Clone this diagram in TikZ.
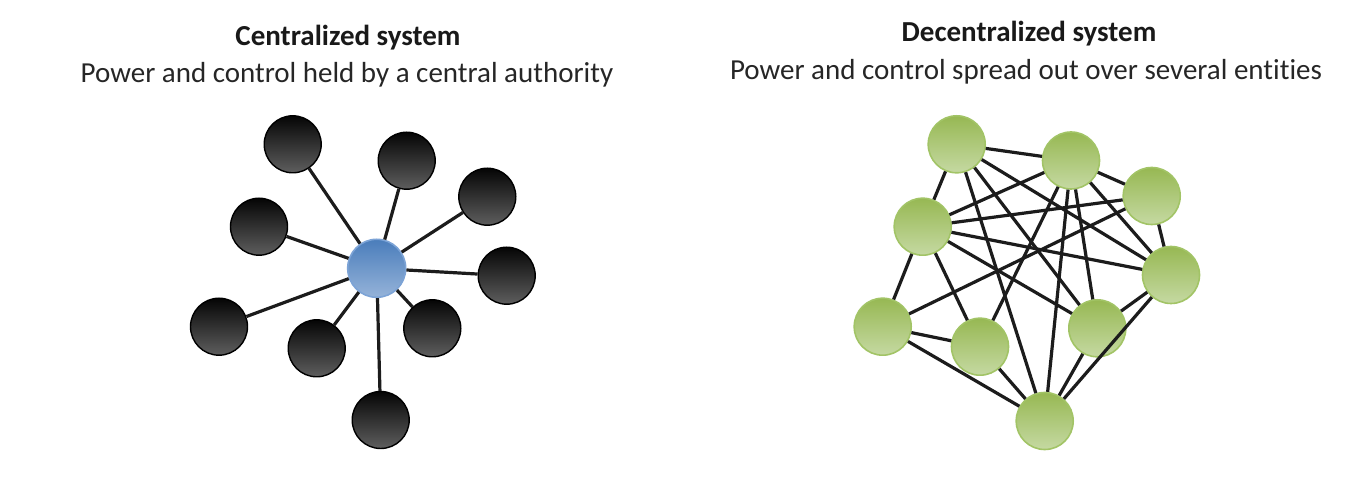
\documentclass[tikz,border=0pt]{standalone}
\usepackage{fontspec}
\setmainfont{Carlito}[Ligatures=NoCommon]
\definecolor{darktop}{HTML}{050505}
\definecolor{darkbot}{HTML}{5E5E5E}
\definecolor{bluetop}{HTML}{4A7DBB}
\definecolor{bluebot}{HTML}{95B3D9}
\definecolor{blueedge}{HTML}{7CA3D6}
\definecolor{greentop}{HTML}{97B853}
\definecolor{greenbot}{HTML}{C5D9A2}
\definecolor{greenedge}{HTML}{A2C466}
\definecolor{linkcol}{HTML}{1C1C1C}
\begin{document}
\begin{tikzpicture}[x=0.5pt,y=-0.5pt,
  darknode/.style={circle, minimum size=28.5pt, inner sep=0pt, draw=black, line width=0.7pt, top color=darktop, bottom color=darkbot},
  hubnode/.style={circle, minimum size=29pt, inner sep=0pt, draw=blueedge, line width=0.8pt, top color=bluetop, bottom color=bluebot},
  peernode/.style={circle, minimum size=28.5pt, inner sep=0pt, draw=greenedge, line width=0.8pt, top color=greentop, bottom color=greenbot},
  link/.style={draw=linkcol, line width=1.6pt},
  titletext/.style={anchor=base, inner sep=0pt, font=\fontsize{14.5}{17}\selectfont\bfseries, text=black!90},
  subtext/.style={anchor=base, inner sep=0pt, font=\fontsize{14.5}{17}\selectfont, text=black!85}]
\useasboundingbox (0,0) rectangle (1354,485);
\fill[white] (0,0) rectangle (1354,485);

% texts
\node[titletext] (t1) at (348,46) {Centralized system};
\node[subtext] (s1) at (347,83) {Power and control held by a central authority};
\node[titletext] (t2) at (1029,42) {Decentralized system};
\node[subtext] (s2) at (1026,80) {Power and control spread out over several entities};

% centralized
\node[darknode] (n1) at (292.7,144.3) {};
\node[darknode] (n2) at (406.7,160.7) {};
\node[darknode] (n3) at (487.3,196.7) {};
\node[darknode] (n4) at (259,226.7) {};
\node[darknode] (n5) at (506.7,275.7) {};
\node[darknode] (n6) at (219,326.7) {};
\node[darknode] (n7) at (316.7,348.3) {};
\node[darknode] (n8) at (432.3,328.3) {};
\node[darknode] (n9) at (380.7,420) {};
\node[hubnode] (hub) at (376.7,268.3) {};
\foreach \n in {n1,n2,n3,n4,n5,n6,n7,n8,n9}
  \draw[link] (hub) -- (\n);

% decentralized
\node[peernode] (A) at (956.7,144.3) {};
\node[peernode] (B) at (1071,160.5) {};
\node[peernode] (C) at (1151.7,196) {};
\node[peernode] (D) at (922.7,226.7) {};
\node[peernode] (E) at (1171,275) {};
\node[peernode] (F) at (882.7,326.7) {};
\node[peernode] (G) at (980,346.7) {};
\node[peernode] (H) at (1097.3,328.3) {};
\node[peernode] (I) at (1044.7,421) {};
\foreach \a/\b in {A/B,A/D,A/E,A/H,A/I,B/C,B/D,B/E,B/G,B/H,B/I,C/D,C/E,C/F,D/E,D/F,D/G,D/H,E/H,E/I,F/G,F/I,G/I,H/I}
  \draw[link] (\a) -- (\b);
\end{tikzpicture}
\end{document}
